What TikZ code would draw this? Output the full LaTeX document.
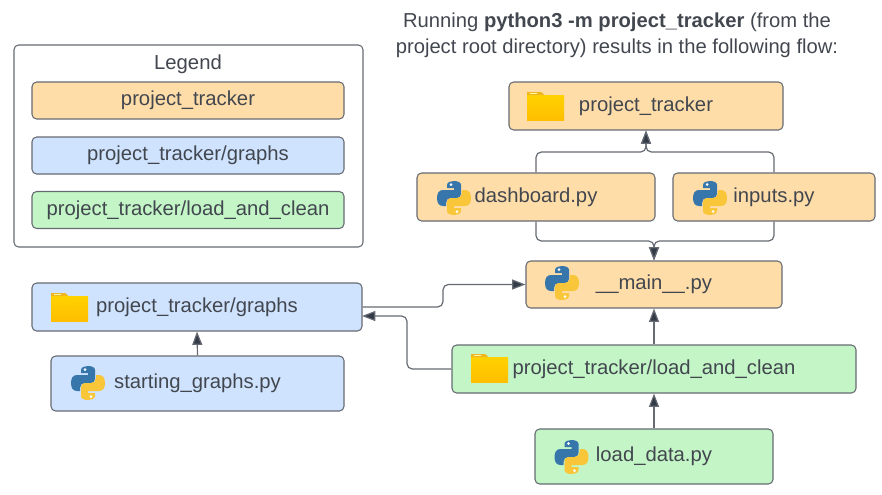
\documentclass[tikz,border=0pt]{standalone}
\usepackage{fontspec}
\setmainfont{Liberation Sans}
\usepackage{xcolor}
\usetikzlibrary{arrows.meta}
\definecolor{orangefill}{HTML}{FFDDA8}
\definecolor{bluefill}{HTML}{CFE3FE}
\definecolor{greenfill}{HTML}{C3F5C6}
\definecolor{edgegray}{HTML}{666B73}
\definecolor{inkgray}{HTML}{42474F}
\definecolor{tipgray}{HTML}{333B48}
\definecolor{pyblue}{HTML}{3776AB}
\definecolor{pyyellow}{HTML}{F9C63A}
\definecolor{foldertop}{HTML}{FFD200}
\definecolor{folderlow}{HTML}{FFBE00}
\definecolor{foldertab}{HTML}{EEB620}
\newcommand{\snakepath}{(-7,-13) .. controls (-7,-16) and (-3,-17) .. (0,-17) .. controls (4,-17) and (7,-15.5) .. (7,-13) -- (7,-4) .. controls (7,-1.5) and (5,0) .. (3,0) -- (-3,0) .. controls (-6,0) and (-8,2) .. (-8,5) -- (-8,8) -- (-11,8) .. controls (-15,8) and (-17,5) .. (-17,0) .. controls (-17,-5) and (-15,-8) .. (-11,-8) -- (0,-8) -- (0,-10) -- (-7,-10) -- cycle}
\tikzset{
  boxsize/.style 2 args={minimum width=#1*0.75pt, minimum height=#2*0.75pt},
  filebox/.style={draw=edgegray, line width=0.8pt, rounded corners=3.5pt, inner sep=0pt, text=inkgray, font=\fontsize{15.2}{18}\selectfont},
  orangebox/.style={filebox, fill=orangefill},
  bluebox/.style={filebox, fill=bluefill},
  greenbox/.style={filebox, fill=greenfill},
  flow/.style={draw=edgegray, line width=0.9pt, rounded corners=4pt, -{Triangle[length=10pt,width=7.5pt,fill=tipgray]}},
  pics/pyicon/.style={code={
    \fill[pyblue] \snakepath;
    \fill[pyyellow, rotate=180] \snakepath;
    \fill[white] (-3,-13.5) circle (1.5*0.75pt);
    \fill[white] (3,13.5) circle (1.5*0.75pt);
  }},
  pics/foldericon/.style={code={
    \fill[top color=foldertop, bottom color=folderlow] (-18.5,-11) -- (18.5,-11) -- (18.5,14) -- (-18.5,14) -- cycle;
    \fill[foldertab] (-18.5,-14) -- (-4,-14) -- (-1,-11) -- (-18.5,-11) -- cycle;
    \fill[white!65!yellow] (-16,-13) rectangle (-9,-11.8);
  }}
}

\begin{document}
\begin{tikzpicture}[x=0.75pt,y=-0.75pt]
  \useasboundingbox (0,0) rectangle (882,494);

  % heading
  \node[align=center, text=inkgray, font=\fontsize{15.15}{19.5}\selectfont] (heading) at (617,35)
    {Running \textbf{python3 -m project\_tracker} (from the\\project root directory) results in the following flow:};

  % legend
  \node[filebox, fill=white, boxsize={349}{202}] (legend) at (188.5,146) {};
  \node[text=inkgray, font=\fontsize{15.2}{18}\selectfont] (legendtitle) at (188,64) {Legend};
  \node[orangebox, boxsize={312}{37}] (legendroot) at (188,100.5) {project\_tracker};
  \node[bluebox, boxsize={312}{37}] (legendgraphs) at (188,155.5) {project\_tracker/graphs};
  \node[greenbox, boxsize={312}{37}] (legendload) at (188,210) {project\_tracker/load\_and\_clean};

  % flow boxes
  \node[orangebox, boxsize={274}{48}] (tracker) at (646,106) {project\_tracker};
  \node[orangebox, boxsize={238}{48}] (dashboard) at (536,197) {dashboard.py};
  \node[orangebox, boxsize={202}{48}] (inputs) at (774,197) {inputs.py};
  \node[orangebox, boxsize={256}{47}] (main) at (654,284.5) {\_\_main\_\_.py};
  \node[greenbox, boxsize={404}{48}] (loadclean) at (654,369) {project\_tracker/load\_and\_clean};
  \node[greenbox, boxsize={238}{55}] (loaddata) at (654,456.5) {load\_data.py};
  \node[bluebox, boxsize={330}{48}] (graphs) at (197,307) {project\_tracker/graphs};
  \node[bluebox, boxsize={293}{55}] (starting) at (197.5,383.5) {starting\_graphs.py};

  % icons
  \foreach \x/\y in {454/198, 710/198, 562/283, 88/383, 571.5/457}
    \pic at (\x,\y) {pyicon};
  \foreach \x/\y in {545.5/106, 69.5/307, 489.5/368}
    \pic at (\x,\y) {foldericon};

  % connectors
  \draw[flow] (dashboard.north) |- (646,152) -- (tracker.south);
  \draw[flow] (inputs.north) |- (646,152) -- (tracker.south);
  \draw[flow] (dashboard.south) |- (654,241) -- (main.north);
  \draw[flow] (inputs.south) |- (654,241) -- (main.north);
  \draw[flow] (graphs.east) -- (443,307) -- (443,284.5) -- (main.west);
  \draw[flow] (loadclean.west) -- (407,369) -- (407,316) -- (362,316);
  \draw[flow] (loaddata.north) -- (loadclean.south);
  \draw[flow] (loadclean.north) -- (main.south);
  \draw[flow] (starting.north) -- (graphs.south);
\end{tikzpicture}
\end{document}
